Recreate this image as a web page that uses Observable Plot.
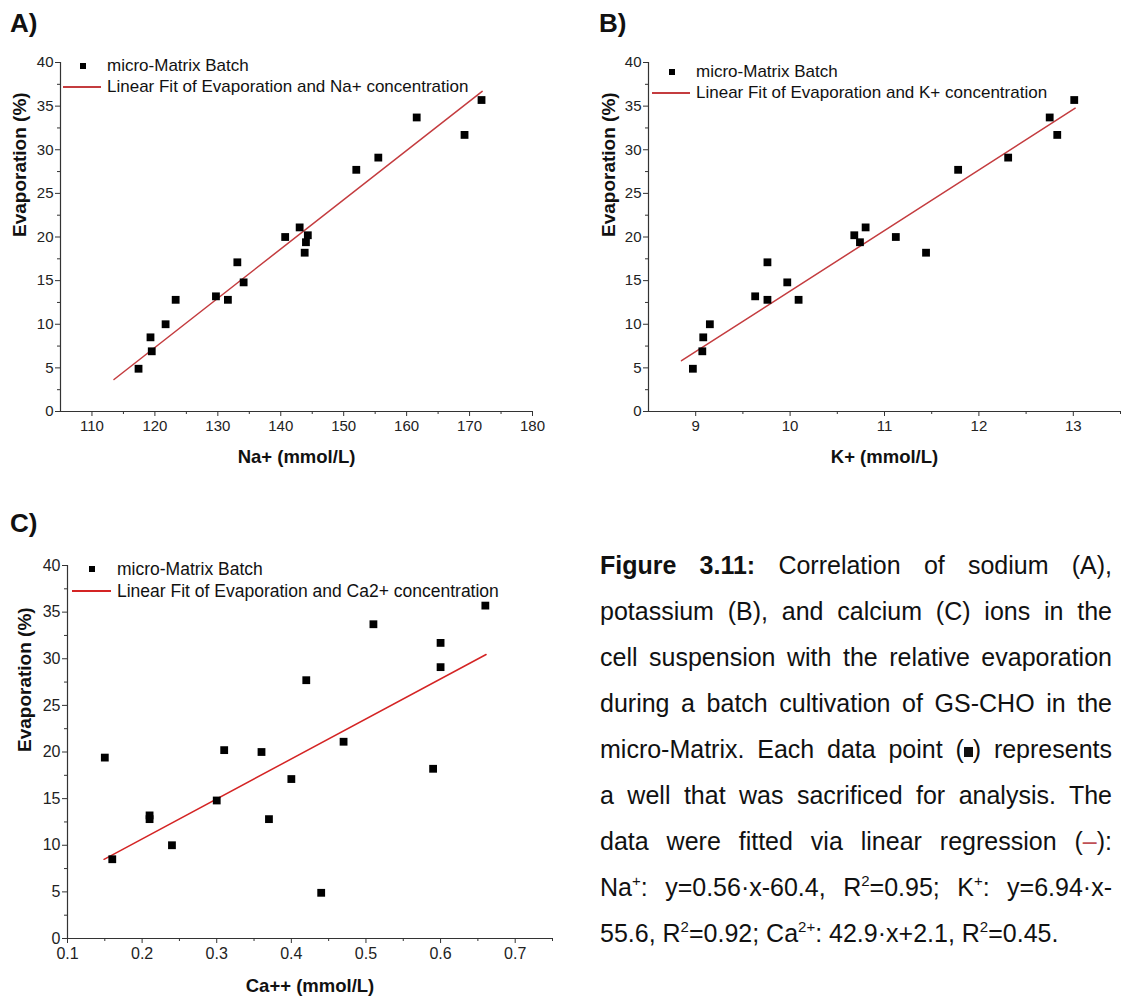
<!DOCTYPE html>
<html>
<head>
<meta charset="utf-8">
<script src="https://cdn.jsdelivr.net/npm/d3@7"></script>
<script src="https://cdn.jsdelivr.net/npm/@observablehq/plot@0.6"></script>
<style>
  body { margin: 0; background: #fff; font-family: "Liberation Sans", Arial, sans-serif; }
  #fig { position: relative; width: 1126px; height: 1001px; overflow: hidden; background: #fff; }
  .panel { position: absolute; }
  .tag { position: absolute; font-weight: bold; font-size: 26px; line-height: 26px; color: #111; }
  .lg-text { position: absolute; white-space: nowrap; line-height: 20px; color: #111; }
  .lg-sq { position: absolute; width: 5.5px; height: 5.5px; background: #000; }
  .lg-line { position: absolute; height: 1.5px; }
  #caption { position: absolute; left: 600px; top: 542px; width: 512px; font-size: 25px; line-height: 46px; color: #111; }
  #caption .ln { text-align: justify; text-align-last: justify; height: 46px; overflow: visible; }
  #caption .ln.last { text-align: left; text-align-last: left; }
  #caption sup { font-size: 0.6em; vertical-align: 0.7em; line-height: 0; }
  #caption .sq { display: inline-block; width: 9px; height: 10px; background: #111; vertical-align: 1px; }
</style>
</head>
<body>
<div id="fig"></div>
<script>
// ---- Panel A: sodium ----
const naValues = [117.4, 119.3, 119.5, 121.7, 123.3, 129.7, 131.6, 133.1, 134.1, 140.7, 143.0, 143.8, 144.0, 144.3, 152.0, 155.5, 161.6, 169.2, 171.9];
const evapNa   = [4.9, 8.5, 6.9, 10.0, 12.8, 13.2, 12.8, 17.1, 14.8, 20.0, 21.1, 18.2, 19.4, 20.2, 27.7, 29.1, 33.7, 31.7, 35.7];
const naFit = {slope: 0.5645, intercept: -60.4, r2: 0.95, range: [113.5, 172]};
const naTicks = [110, 120, 130, 140, 150, 160, 170, 180];
const naMinor = [115, 125, 135, 145, 155, 165, 175];

// ---- Panel B: potassium ----
const kValues = [8.97, 9.07, 9.08, 9.15, 9.63, 9.76, 9.76, 9.97, 10.09, 10.68, 10.74, 10.80, 11.12, 11.44, 11.78, 12.31, 12.75, 12.83, 13.01];
const evapK   = [4.9, 6.9, 8.5, 10.0, 13.2, 12.8, 17.1, 14.8, 12.8, 20.2, 19.4, 21.1, 20.0, 18.2, 27.7, 29.1, 33.7, 31.7, 35.7];
const kFit = {slope: 6.94, intercept: -55.6, r2: 0.92, range: [8.85, 13.02]};
const kTicks = [9, 10, 11, 12, 13];
const kMinor = [9.5, 10.5, 11.5, 12.5, 13.5];

// ---- Panel C: calcium ----
const caValues = [0.15, 0.16, 0.21, 0.21, 0.24, 0.30, 0.31, 0.36, 0.37, 0.40, 0.42, 0.44, 0.47, 0.51, 0.59, 0.60, 0.60, 0.66];
const evapCa   = [19.4, 8.5, 13.2, 12.8, 10.0, 14.8, 20.2, 20.0, 12.8, 17.1, 27.7, 4.9, 21.1, 33.7, 18.2, 31.7, 29.1, 35.7];
const caFit = {slope: 42.9, intercept: 2.1, r2: 0.45, range: [0.149, 0.661]};
const caTicks = [0.1, 0.2, 0.3, 0.4, 0.5, 0.6, 0.7];
const caMinor = [0.15, 0.25, 0.35, 0.45, 0.55, 0.65, 0.75];

// ---- shared y axis ----
const evapTicks = [0, 5, 10, 15, 20, 25, 30, 35, 40];
const evapMinor = [2.5, 7.5, 12.5, 17.5, 22.5, 27.5, 32.5, 37.5];

const FONT = "'Liberation Sans', Arial, sans-serif";
const fig = document.getElementById("fig");

function drawPanel(cfg) {
  const pts = cfg.xs.map((x, i) => ({x, y: cfg.ys[i]}));
  const fitPts = cfg.fit.range.map(x => ({x, y: cfg.fit.slope * x + cfg.fit.intercept}));
  const tickText = {fontSize: cfg.tickFont, fill: "#222"};
  const chart = Plot.plot({
    width: cfg.width,
    height: cfg.height,
    marginTop: cfg.margin[0],
    marginRight: cfg.margin[1],
    marginBottom: cfg.margin[2],
    marginLeft: cfg.margin[3],
    style: {fontFamily: FONT, fontSize: cfg.tickFont + "px", color: "#222", background: "transparent", overflow: "visible"},
    x: {domain: cfg.domain, axis: null},
    y: {domain: [0, 40], axis: null},
    marks: [
      Plot.ruleY([0], {stroke: "#333", strokeWidth: 1.2}),
      Plot.ruleX([cfg.domain[0]], {stroke: "#333", strokeWidth: 1.2}),
      Plot.axisX(cfg.ticks, {tickSize: 5, tickPadding: 4, tickFormat: cfg.fmt, label: null, stroke: "#333", ...tickText}),
      Plot.axisX(cfg.minor, {tickSize: 3, tickFormat: () => "", label: null, stroke: "#333"}),
      Plot.axisY(evapTicks, {tickSize: 5, tickPadding: 2, tickFormat: d => String(d), label: null, stroke: "#333", ...tickText}),
      Plot.axisY(evapMinor, {tickSize: 3, tickFormat: () => "", label: null, stroke: "#333"}),
      Plot.line(fitPts, {x: "x", y: "y", stroke: cfg.lineColor, strokeWidth: 1.5}),
      Plot.dot(pts, {x: "x", y: "y", symbol: "square", r: 4.4, fill: "#000", stroke: "none"}),
      Plot.text([cfg.xLabel], {frameAnchor: "bottom", dy: cfg.xLabelDy, text: d => d, fontWeight: "bold", fontSize: 18.5, fill: "#111", lineAnchor: "middle"}),
      Plot.text(["Evaporation (%)"], {frameAnchor: "left", dx: cfg.yLabelDx, rotate: -90, text: d => d, fontWeight: "bold", fontSize: 19, fill: "#111", lineAnchor: "middle"})
    ]
  });
  chart.classList.add("panel");
  chart.style.left = cfg.left + "px";
  chart.style.top = cfg.top + "px";
  fig.appendChild(chart);

  // panel tag
  const tag = document.createElement("div");
  tag.className = "tag";
  tag.textContent = cfg.tag;
  tag.style.left = cfg.tagPos[0] + "px";
  tag.style.top = cfg.tagPos[1] + "px";
  fig.appendChild(tag);

  // legend: square marker row and fit line row
  const lg = cfg.legend;
  const sq = document.createElement("div");
  sq.className = "lg-sq";
  sq.style.left = (lg.sqX - 2.75) + "px";
  sq.style.top = (lg.row1 - 2.75) + "px";
  fig.appendChild(sq);
  const ln = document.createElement("div");
  ln.className = "lg-line";
  ln.style.left = lg.lineX[0] + "px";
  ln.style.width = (lg.lineX[1] - lg.lineX[0]) + "px";
  ln.style.top = (lg.row2 - 0.75) + "px";
  ln.style.background = cfg.lineColor;
  fig.appendChild(ln);
  [[cfg.seriesName, lg.row1], [cfg.fitName, lg.row2]].forEach(([t, cy]) => {
    const s = document.createElement("div");
    s.className = "lg-text";
    s.textContent = t;
    s.style.left = lg.textX + "px";
    s.style.top = (cy - 10) + "px";
    s.style.fontSize = lg.font + "px";
    fig.appendChild(s);
  });
}

drawPanel({
  tag: "A)", tagPos: [10, 10],
  xs: naValues, ys: evapNa, fit: naFit,
  domain: [105, 180], ticks: naTicks, minor: naMinor, fmt: d => String(d),
  xLabel: "Na+ (mmol/L)", xLabelDy: 46, yLabelDx: -41,
  left: 0, top: 0, width: 563, height: 480, margin: [62, 31, 69, 60], tickFont: 15,
  lineColor: "#c43c3f",
  seriesName: "micro-Matrix Batch", fitName: "Linear Fit of Evaporation and Na+ concentration",
  legend: {sqX: 83, row1: 66, row2: 87, lineX: [63, 101], textX: 107, font: 17}
});

drawPanel({
  tag: "B)", tagPos: [599, 10],
  xs: kValues, ys: evapK, fit: kFit,
  domain: [8.5, 13.5], ticks: kTicks, minor: kMinor, fmt: d => String(d),
  xLabel: "K+ (mmol/L)", xLabelDy: 46, yLabelDx: -40,
  left: 588, top: 0, width: 538, height: 480, margin: [62, 6, 69, 60], tickFont: 15,
  lineColor: "#c43c3f",
  seriesName: "micro-Matrix Batch", fitName: "Linear Fit of Evaporation and K+ concentration",
  legend: {sqX: 672, row1: 72, row2: 93, lineX: [652, 690], textX: 696, font: 17}
});

drawPanel({
  tag: "C)", tagPos: [10, 510],
  xs: caValues, ys: evapCa, fit: caFit,
  domain: [0.1, 0.75], ticks: caTicks, minor: caMinor, fmt: d => d.toFixed(1),
  xLabel: "Ca++ (mmol/L)", xLabelDy: 48, yLabelDx: -43,
  left: 0, top: 500, width: 580, height: 501, margin: [65, 28, 63, 67], tickFont: 16,
  lineColor: "#d42424",
  seriesName: "micro-Matrix Batch", fitName: "Linear Fit of Evaporation and Ca2+ concentration",
  legend: {sqX: 92, row1: 569, row2: 591, lineX: [72, 111], textX: 117, font: 17.5}
});

// ---- caption ----
const signed = (v, d) => (v < 0 ? "-" : "+") + Math.abs(v).toFixed(d);
const captionLines = [
  "<b>Figure 3.11:</b> Correlation of sodium (A),",
  "potassium (B), and calcium (C) ions in the",
  "cell suspension with the relative evaporation",
  "during a batch cultivation of GS-CHO in the",
  "micro-Matrix. Each data point (<span class=\"sq\"></span>) represents",
  "a well that was sacrificed for analysis. The",
  "data were fitted via linear regression (<span style=\"color:#c05055\">–</span>):",
  `Na<sup>+</sup>: y=${naFit.slope.toFixed(2)}·x${signed(naFit.intercept, 1)}, R<sup>2</sup>=${naFit.r2.toFixed(2)}; K<sup>+</sup>: y=${kFit.slope.toFixed(2)}·x${kFit.intercept < 0 ? "-" : "+"}`,
  `${Math.abs(kFit.intercept).toFixed(1)}, R<sup>2</sup>=${kFit.r2.toFixed(2)}; Ca<sup>2+</sup>: ${caFit.slope.toFixed(1)}·x${signed(caFit.intercept, 1)}, R<sup>2</sup>=${caFit.r2.toFixed(2)}.`
];
const cap = document.createElement("div");
cap.id = "caption";
captionLines.forEach((html, i) => {
  const d = document.createElement("div");
  d.className = "ln" + (i === captionLines.length - 1 ? " last" : "");
  d.innerHTML = html;
  cap.appendChild(d);
});
fig.appendChild(cap);
</script>
</body>
</html>
